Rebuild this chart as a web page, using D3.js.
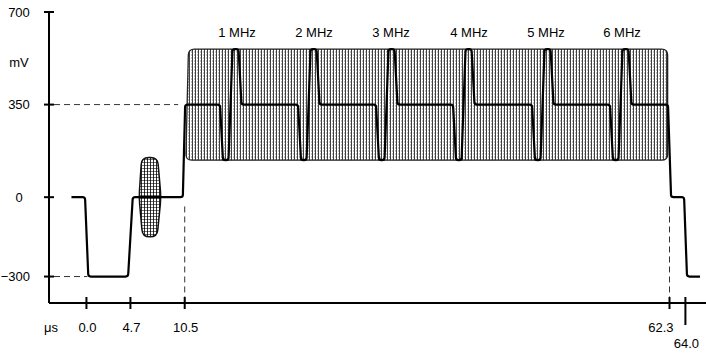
<!DOCTYPE html>
<html><head><meta charset="utf-8">
<script src="https://cdn.jsdelivr.net/npm/d3@7"></script>
<style>
body{margin:0;background:#fff}
svg{display:block}
text{font-family:"Liberation Sans",Arial,Helvetica,sans-serif;font-size:13px;fill:#000}
</style>
</head><body>
<svg id="chart" width="706" height="354"></svg>
<script>
// ---- data (time in microseconds, level in mV) ----
const waveTime  = [-1.6,-0.15,0.2,4.45,4.95,10.3,10.55,
  14.27,14.59,15.18,15.61,16.25,16.57,
  22.61,22.93,23.52,23.95,24.59,24.91,
  30.94,31.26,31.85,32.28,32.92,33.24,
  39.17,39.49,40.08,40.51,41.15,41.47,
  47.61,47.93,48.52,48.95,49.59,49.91,
  55.94,56.26,56.85,57.28,57.92,58.24,
  62.14,62.47,63.86,64.17,65.56];
const waveLevel = [0,0,-300,-300,0,0,350,
  350,140,140,560,560,350,
  350,140,140,560,560,350,
  350,140,140,560,560,350,
  350,140,140,560,560,350,
  350,140,140,560,560,350,
  350,140,140,560,560,350,
  350,0,0,-300,-300];
const envelopeTime  = [10.62, 10.9, 62.1, 62.1];
const envelopeLevel = [140, 560, 560, 140];
const burstTime  = [5.9, 7.6, 7.97, 7.55, 6.0, 5.62];
const burstLevel = [150, 150, 0, -150, -150, 0];
const yTicks = [700, 350, 0, -300];
const yTickLabels = ["700", "350", "0", "\u2212300"];
const xTicks = [0.0, 4.7, 10.5, 62.3, 64.0];
const xTickLabels = ["0.0", "4.7", "10.5", "62.3", "64.0"];
const freqLabels = ["1 MHz", "2 MHz", "3 MHz", "4 MHz", "5 MHz", "6 MHz"];
const freqTime = [16.09, 24.32, 32.55, 40.88, 49.11, 57.23];
const guideLevels = [350, -300];
const guideLevelEnds = [9.8, 0.1];
const guideTimes = [10.5, 62.3];

// ---- scales ----
const svg = d3.select("#chart");
const x = d3.scaleLinear().domain([-4, 66.2]).range([49, 706]);
const y = d3.scaleLinear().domain([-400, 700]).range([303, 12]);

// rounded polyline path
function roundedPath(pts, r, closed) {
  const n = pts.length;
  const p = d3.path();
  const get = i => pts[(i + n) % n];
  function corner(i) {
    const a = get(i - 1), b = get(i), c = get(i + 1);
    const d1 = Math.hypot(b[0]-a[0], b[1]-a[1]), d2 = Math.hypot(c[0]-b[0], c[1]-b[1]);
    const r1 = Math.min(r, d1/2), r2 = Math.min(r, d2/2);
    const s = [b[0] - (b[0]-a[0])/d1*r1, b[1] - (b[1]-a[1])/d1*r1];
    const e = [b[0] + (c[0]-b[0])/d2*r2, b[1] + (c[1]-b[1])/d2*r2];
    return [s, b, e];
  }
  if (closed) {
    const c0 = corner(0);
    p.moveTo(c0[2][0], c0[2][1]);
    for (let i = 1; i <= n; i++) {
      const c = corner(i % n);
      p.lineTo(c[0][0], c[0][1]);
      p.quadraticCurveTo(c[1][0], c[1][1], c[2][0], c[2][1]);
    }
    p.closePath();
  } else {
    p.moveTo(pts[0][0], pts[0][1]);
    for (let i = 1; i < n - 1; i++) {
      const c = corner(i);
      p.lineTo(c[0][0], c[0][1]);
      p.quadraticCurveTo(c[1][0], c[1][1], c[2][0], c[2][1]);
    }
    p.lineTo(pts[n-1][0], pts[n-1][1]);
  }
  return p.toString();
}

// ---- patterns ----
const defs = svg.append("defs");
const hatch = defs.append("pattern").attr("id", "hatch")
  .attr("patternUnits", "userSpaceOnUse").attr("width", 3).attr("height", 3);
hatch.append("rect").attr("width", 3).attr("height", 3).attr("fill", "#fff");
hatch.append("rect").attr("x", 0).attr("y", 0).attr("width", 1).attr("height", 3).attr("fill", "#000").attr("opacity", 0.75);
hatch.append("rect").attr("x", 2).attr("y", 0).attr("width", 1).attr("height", 2).attr("fill", "#000").attr("opacity", 0.25);

const grid = defs.append("pattern").attr("id", "grid")
  .attr("patternUnits", "userSpaceOnUse").attr("width", 3).attr("height", 3);
grid.append("rect").attr("width", 3).attr("height", 3).attr("fill", "#fff");
grid.append("rect").attr("width", 1).attr("height", 3).attr("fill", "#000").attr("opacity", 0.8);
grid.append("rect").attr("width", 3).attr("height", 1).attr("fill", "#000").attr("opacity", 0.55);

// ---- guides ----
const dash = "6,4";
guideLevels.forEach((v, i) => {
  svg.append("line").attr("x1", 54).attr("x2", x(guideLevelEnds[i]))
    .attr("y1", y(v)).attr("y2", y(v))
    .attr("stroke", "#333").attr("stroke-width", 1).attr("stroke-dasharray", dash);
});
guideTimes.forEach(t => {
  svg.append("line").attr("x1", x(t)).attr("x2", x(t))
    .attr("y1", y(-35)).attr("y2", y(-400))
    .attr("stroke", "#333").attr("stroke-width", 1).attr("stroke-dasharray", dash);
});

// ---- envelope & burst ----
const envPts = envelopeTime.map((t, i) => [x(t), y(envelopeLevel[i])]);
svg.append("path").attr("d", roundedPath(envPts, 6, true))
  .attr("fill", "url(#hatch)").attr("stroke", "#222").attr("stroke-width", 1.3);

const burstPts = burstTime.map((t, i) => [x(t), y(burstLevel[i])]);
svg.append("path").attr("d", roundedPath(burstPts, 7, true))
  .attr("fill", "url(#grid)").attr("stroke", "#111").attr("stroke-width", 1.5);

// ---- waveform ----
const wavePts = waveTime.map((t, i) => [x(t), y(waveLevel[i])]);
svg.append("path").attr("d", roundedPath(wavePts, 2.5, false))
  .attr("fill", "none").attr("stroke", "#000").attr("stroke-width", 2.2)
  .attr("stroke-linejoin", "round");

// ---- axes ----
svg.append("line").attr("x1", x(-4)).attr("x2", 706).attr("y1", y(-400)).attr("y2", y(-400))
  .attr("stroke", "#000").attr("stroke-width", 1.8);
svg.append("line").attr("x1", x(-4)).attr("x2", x(-4)).attr("y1", y(700)).attr("y2", y(-400))
  .attr("stroke", "#000").attr("stroke-width", 2);

yTicks.forEach((v, i) => {
  svg.append("line").attr("x1", x(-4) - 5).attr("x2", x(-4) + 5)
    .attr("y1", y(v)).attr("y2", y(v)).attr("stroke", "#000").attr("stroke-width", 2);
  const neg = v < 0;
  svg.append("text").attr("x", neg ? 30 : 19).attr("y", y(v)).attr("dy", "0.35em")
    .attr("text-anchor", neg ? "end" : "middle").text(yTickLabels[i]);
});
svg.append("text").attr("x", 19).attr("y", 62).attr("dy", "0.35em")
  .attr("text-anchor", "middle").text("mV");

xTicks.forEach((t, i) => {
  const last = i === xTicks.length - 1;
  svg.append("line").attr("x1", x(t)).attr("x2", x(t))
    .attr("y1", y(-400) - 6).attr("y2", y(-400) + (last ? 22 : 6))
    .attr("stroke", "#000").attr("stroke-width", 2);
  const shifted = i === xTicks.length - 2;
  svg.append("text")
    .attr("x", shifted ? x(t) + 4 : x(t) + 1)
    .attr("y", last ? 343 : 327).attr("dy", "0.35em")
    .attr("text-anchor", shifted ? "end" : "middle")
    .text(xTickLabels[i]);
});
svg.append("text").attr("x", 51).attr("y", 327).attr("dy", "0.35em")
  .attr("text-anchor", "middle").text("\u03bcs");

freqLabels.forEach((s, i) => {
  svg.append("text").attr("x", x(freqTime[i])).attr("y", 32).attr("dy", "0.35em")
    .attr("text-anchor", "middle").text(s);
});
</script>
</body></html>
